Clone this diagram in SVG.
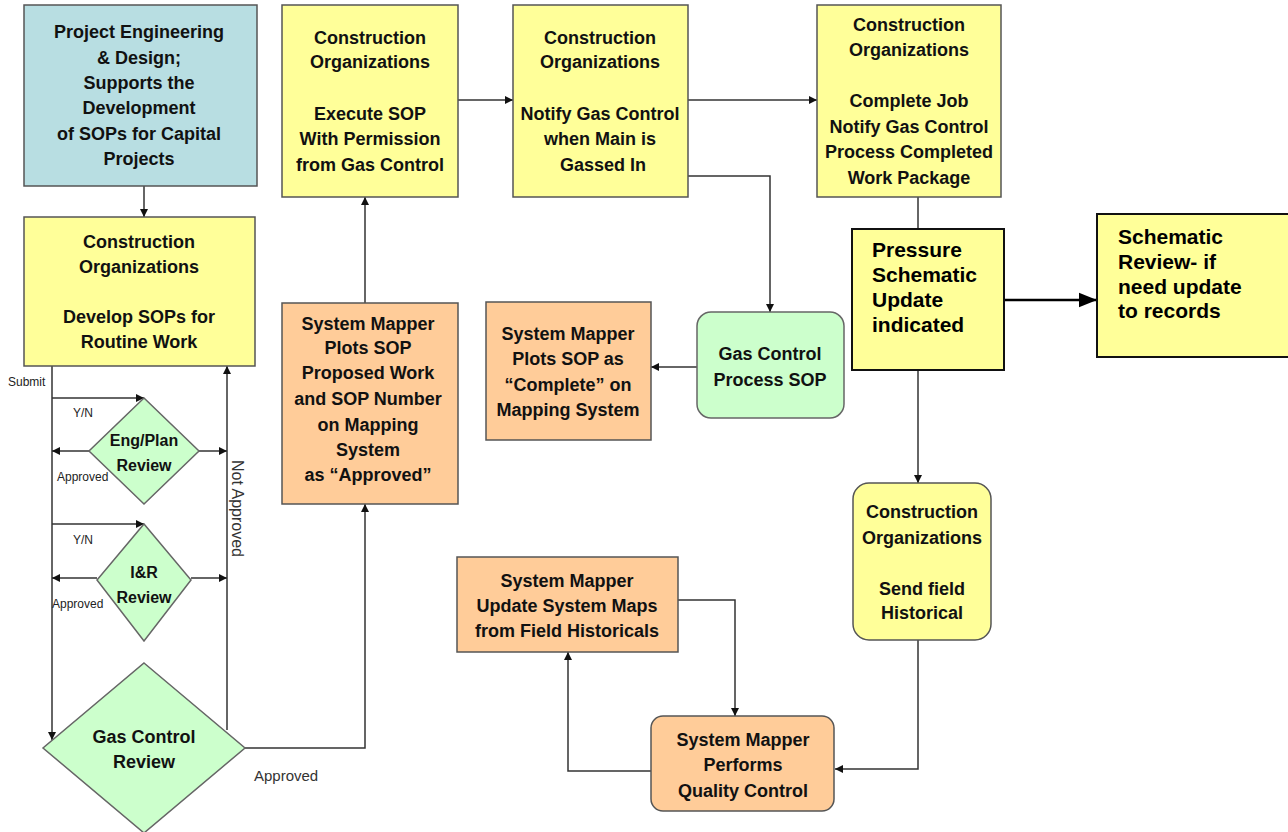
<svg xmlns="http://www.w3.org/2000/svg" width="1288" height="832" viewBox="0 0 1288 832">
<style>
.t{font-family:"Liberation Sans",Arial,sans-serif;font-weight:bold;font-size:18px;fill:#111;text-anchor:middle}
.d{font-size:16px}
.tl{font-family:"Liberation Sans",Arial,sans-serif;font-weight:bold;font-size:21px;fill:#000}
.s{font-family:"Liberation Sans",Arial,sans-serif;font-size:12px;fill:#222}
.m{font-family:"Liberation Sans",Arial,sans-serif;font-size:15px;fill:#333}
.y{fill:#ffff99;stroke:#555;stroke-width:1.5}
.o{fill:#ffcc99;stroke:#555;stroke-width:1.5}
.g{fill:#ccffcc;stroke:#666;stroke-width:1.5}
.b{fill:#b8dee2;stroke:#555;stroke-width:1.5}
.k{fill:#ffff99;stroke:#111;stroke-width:2}
.c{fill:none;stroke:#333;stroke-width:1.5}
.c2{fill:none;stroke:#000;stroke-width:2.5}
</style>
<defs>
<marker id="a" viewBox="0 0 10 10" refX="10" refY="5" markerWidth="8" markerHeight="8" markerUnits="userSpaceOnUse" orient="auto"><path d="M0,0 L10,5 L0,10 z" fill="#111"/></marker>
<marker id="a2" viewBox="0 0 10 10" refX="10" refY="5" markerWidth="18" markerHeight="18" markerUnits="userSpaceOnUse" orient="auto"><path d="M0,1 L10,5 L0,9 z" fill="#000"/></marker>
</defs>
<rect width="1288" height="832" fill="#fff"/>

<g id="connectors">
<path class="c" d="M144,186 V217" marker-end="url(#a)"/>
<path class="c" d="M52,366 V740" marker-end="url(#a)"/>
<path class="c" d="M52,398 H144" marker-end="url(#a)"/>
<path class="c" d="M89,451 H52" marker-end="url(#a)"/>
<path class="c" d="M199,451 H227" marker-end="url(#a)"/>
<path class="c" d="M52,524 H144" marker-end="url(#a)"/>
<path class="c" d="M97,578 H52" marker-end="url(#a)"/>
<path class="c" d="M191,578 H227" marker-end="url(#a)"/>
<path class="c" d="M227,730 V366" marker-end="url(#a)"/>
<path class="c" d="M245,748 H365 V504" marker-end="url(#a)"/>
<path class="c" d="M365,303 V197" marker-end="url(#a)"/>
<path class="c" d="M458,100 H513" marker-end="url(#a)"/>
<path class="c" d="M688,100 H817" marker-end="url(#a)"/>
<path class="c" d="M688,176 H770 V312" marker-end="url(#a)"/>
<path class="c" d="M697,367 H651" marker-end="url(#a)"/>
<path class="c" d="M918,197 V229"/>
<path class="c2" d="M1004,300 H1097" marker-end="url(#a2)"/>
<path class="c" d="M918,370 V483" marker-end="url(#a)"/>
<path class="c" d="M918,640 V769 H835" marker-end="url(#a)"/>
<path class="c" d="M678,600 H735 V716" marker-end="url(#a)"/>
<path class="c" d="M651,771 H568 V652" marker-end="url(#a)"/>
</g>

<g id="labels">
<text class="s" x="8" y="386">Submit</text>
<text class="s" x="73" y="417">Y/N</text>
<text class="s" x="57" y="481">Approved</text>
<text class="s" x="73" y="544">Y/N</text>
<text class="s" x="52" y="608">Approved</text>
<text class="m" x="254" y="781">Approved</text>
<text class="m" transform="translate(232,460) rotate(90)" style="font-size:16px">Not Approved</text>
</g>

<g id="n-project">
<rect class="b" x="24" y="5" width="233" height="181"/>
<text class="t" x="139" y="38">Project Engineering</text>
<text class="t" x="139" y="64">&amp; Design;</text>
<text class="t" x="139" y="89">Supports the</text>
<text class="t" x="139" y="114">Development</text>
<text class="t" x="139" y="140">of SOPs for Capital</text>
<text class="t" x="139" y="165">Projects</text>
</g>

<g id="n-develop">
<rect class="y" x="24" y="217" width="231" height="149"/>
<text class="t" x="139" y="248">Construction</text>
<text class="t" x="139" y="273">Organizations</text>
<text class="t" x="139" y="323">Develop SOPs for</text>
<text class="t" x="139" y="348">Routine Work</text>
</g>

<g id="n-engplan">
<polygon class="g" points="144,398 199,451 144,504 89,451"/>
<text class="t d" x="144" y="446">Eng/Plan</text>
<text class="t d" x="144" y="471">Review</text>
</g>

<g id="n-ir">
<polygon class="g" points="144,524 191,580 144,641 97,580"/>
<text class="t d" x="144" y="578">I&amp;R</text>
<text class="t d" x="144" y="603">Review</text>
</g>

<g id="n-gcreview">
<polygon class="g" points="144,663 245,748 144,833 43,748"/>
<text class="t" x="144" y="743">Gas Control</text>
<text class="t" x="144" y="768">Review</text>
</g>

<g id="n-execute">
<rect class="y" x="282" y="5" width="176" height="192"/>
<text class="t" x="370" y="44">Construction</text>
<text class="t" x="370" y="68">Organizations</text>
<text class="t" x="370" y="120">Execute SOP</text>
<text class="t" x="370" y="145">With Permission</text>
<text class="t" x="370" y="171">from Gas Control</text>
</g>

<g id="n-notify">
<rect class="y" x="513" y="5" width="175" height="192"/>
<text class="t" x="600" y="44">Construction</text>
<text class="t" x="600" y="68">Organizations</text>
<text class="t" x="600" y="120">Notify Gas Control</text>
<text class="t" x="600" y="145">when Main is</text>
<text class="t" x="603" y="171">Gassed In</text>
</g>

<g id="n-complete">
<rect class="y" x="817" y="5" width="184" height="192"/>
<text class="t" x="909" y="31">Construction</text>
<text class="t" x="909" y="56">Organizations</text>
<text class="t" x="909" y="107">Complete Job</text>
<text class="t" x="909" y="133">Notify Gas Control</text>
<text class="t" x="909" y="158">Process Completed</text>
<text class="t" x="909" y="184">Work Package</text>
</g>

<g id="n-plot-approved">
<rect class="o" x="282" y="303" width="176" height="201"/>
<text class="t" x="368" y="330">System Mapper</text>
<text class="t" x="368" y="354">Plots SOP</text>
<text class="t" x="368" y="379">Proposed Work</text>
<text class="t" x="368" y="405">and SOP Number</text>
<text class="t" x="368" y="431">on Mapping</text>
<text class="t" x="368" y="456">System</text>
<text class="t" x="368" y="481">as “Approved”</text>
</g>

<g id="n-plot-complete">
<rect class="o" x="486" y="302" width="165" height="138"/>
<text class="t" x="568" y="340">System Mapper</text>
<text class="t" x="568" y="365">Plots SOP as</text>
<text class="t" x="568" y="391">“Complete” on</text>
<text class="t" x="568" y="416">Mapping System</text>
</g>

<g id="n-gcprocess">
<rect class="g" x="697" y="312" width="147" height="106" rx="14"/>
<text class="t" x="770" y="360">Gas Control</text>
<text class="t" x="770" y="386">Process SOP</text>
</g>

<g id="n-pressure">
<rect class="k" x="852" y="229" width="152" height="141"/>
<text class="tl" x="872" y="257">Pressure</text>
<text class="tl" x="872" y="282">Schematic</text>
<text class="tl" x="872" y="307">Update</text>
<text class="tl" x="872" y="332">indicated</text>
</g>

<g id="n-schematic">
<rect class="k" x="1097" y="214" width="195" height="143"/>
<text class="tl" x="1118" y="244">Schematic</text>
<text class="tl" x="1118" y="269">Review- if</text>
<text class="tl" x="1118" y="294">need update</text>
<text class="tl" x="1118" y="318">to records</text>
</g>

<g id="n-sendfield">
<rect class="y" x="853" y="483" width="138" height="157" rx="16"/>
<text class="t" x="922" y="518">Construction</text>
<text class="t" x="922" y="544">Organizations</text>
<text class="t" x="922" y="595">Send field</text>
<text class="t" x="922" y="619">Historical</text>
</g>

<g id="n-update">
<rect class="o" x="457" y="557" width="221" height="95"/>
<text class="t" x="567" y="587">System Mapper</text>
<text class="t" x="567" y="612">Update System Maps</text>
<text class="t" x="567" y="637">from Field Historicals</text>
</g>

<g id="n-qc">
<rect class="o" x="651" y="716" width="183" height="95" rx="12"/>
<text class="t" x="743" y="746">System Mapper</text>
<text class="t" x="743" y="771">Performs</text>
<text class="t" x="743" y="797">Quality Control</text>
</g>
</svg>
